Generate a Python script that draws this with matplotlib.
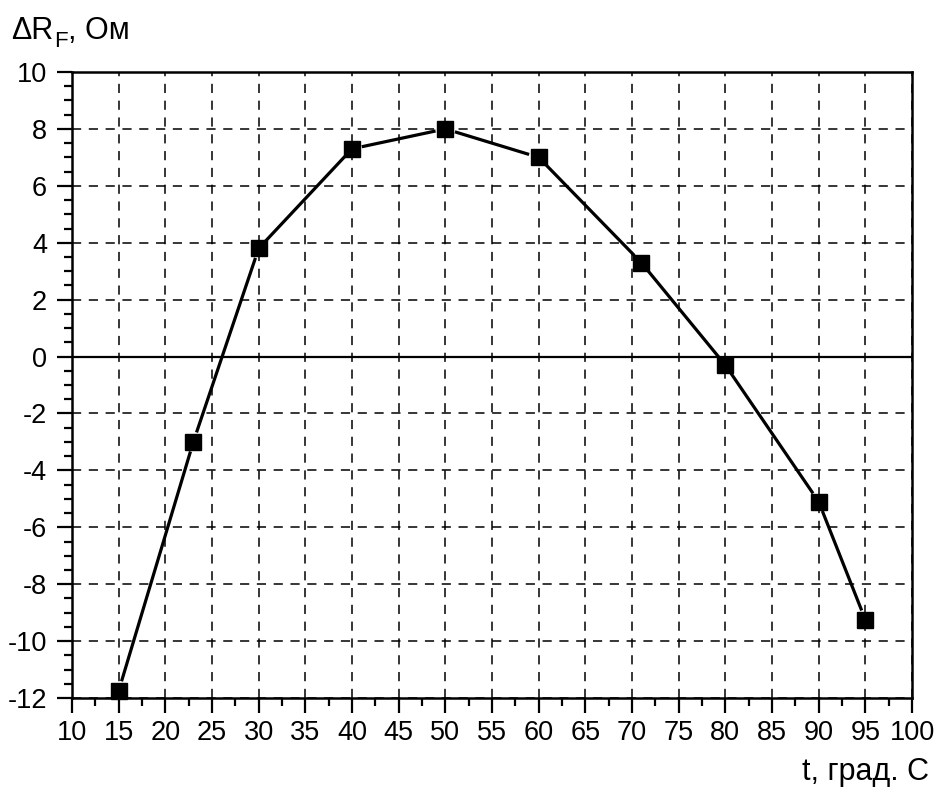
import matplotlib
matplotlib.use("Agg")
import matplotlib.pyplot as plt
import numpy as np
from matplotlib.ticker import MultipleLocator

plt.rcParams['font.family'] = ['Liberation Sans', 'DejaVu Sans']
plt.rcParams['axes.unicode_minus'] = False

# measurements
temperature = [15, 23, 30, 40, 50, 60, 71, 80, 90, 95]
delta_r = [-11.75, -3.0, 3.8, 7.3, 8.0, 7.0, 3.3, -0.3, -5.1, -9.25]

x_ticks = list(range(10, 101, 5))
y_ticks = list(range(-12, 11, 2))

fig = plt.figure(figsize=(9.38, 7.88), dpi=100)
W, H = 938, 788
ax = fig.add_axes([72 / W, 1 - 698 / H, (912 - 72) / W, (698 - 72) / H])
ax.set_xlim(10, 100)
ax.set_ylim(-12, 10)

ax.set_xticks(x_ticks)
ax.set_yticks(y_ticks)
ax.xaxis.set_minor_locator(MultipleLocator(2.5))
ax.yaxis.set_minor_locator(MultipleLocator(0.5))
ax.tick_params(which='major', direction='out', length=11, width=1.6,
               labelsize=19.5)
ax.tick_params(axis='y', which='major', pad=7)
ax.tick_params(axis='x', which='major', pad=5)
ax.tick_params(which='minor', direction='out', length=6, width=1.6)
for s in ax.spines.values():
    s.set_linewidth(1.8)

ax.grid(True, which='major', color='black', linestyle=(0, (6, 5)), linewidth=1.1)
ax.axhline(0, color='black', linewidth=1.6, zorder=2)

fig.canvas.draw()
renderer = fig.canvas.get_renderer()

# connecting segments with a small gap around each marker
gap = 10.0
pts = ax.transData.transform(np.column_stack([temperature, delta_r]))
inv = ax.transData.inverted()
for p0, p1 in zip(pts[:-1], pts[1:]):
    d = p1 - p0
    L = np.hypot(*d)
    u = d / L
    a = inv.transform(p0 + u * gap)
    b = inv.transform(p1 - u * gap)
    ax.plot([a[0], b[0]], [a[1], b[1]], color='black', linewidth=2.3,
            solid_capstyle='butt', zorder=3)

ax.plot(temperature, delta_r, linestyle='none', marker='s', markersize=11,
        color='black', zorder=4, clip_on=False)

# y-axis caption: "ΔR" + lowered "F" + ", Ом"
base_y = 1 - 39 / H
t1 = fig.text(11 / W, base_y, 'ΔR', fontsize=22, ha='left', va='baseline')
x1 = t1.get_window_extent(renderer).x1
t2 = fig.text((x1 + 1) / W, base_y - 8 / H, 'F', fontsize=16,
              ha='left', va='baseline')
x2 = t2.get_window_extent(renderer).x1
fig.text(x2 / W, base_y, ', Ом', fontsize=22, ha='left', va='baseline')

fig.text(929 / W, 1 - 772 / H, 't, град. С', fontsize=22, ha='right', va='center')

fig.savefig('out.png', dpi=100)
